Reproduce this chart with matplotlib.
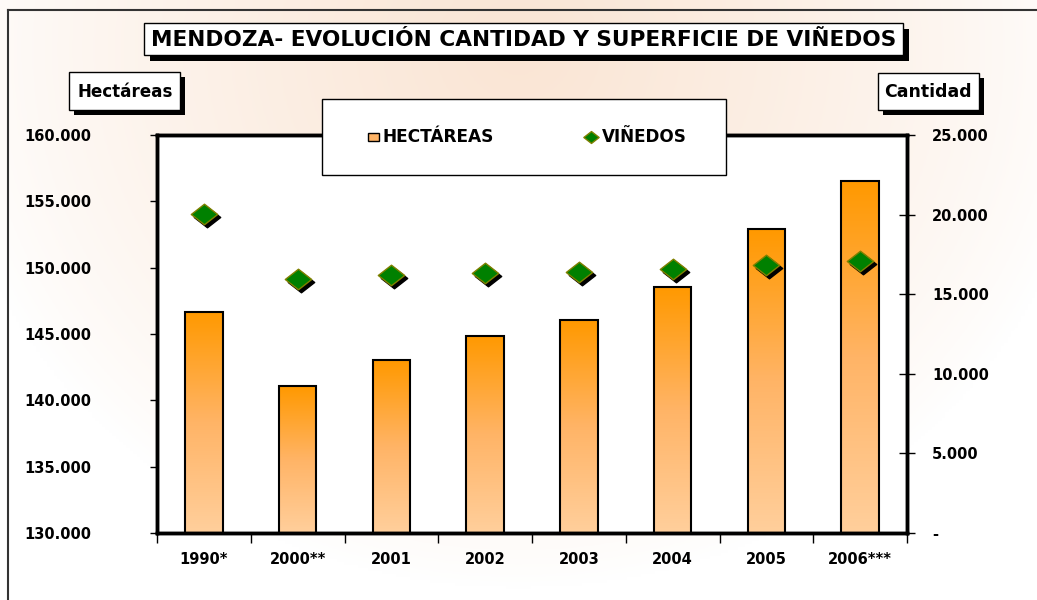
import numpy as np
import matplotlib
matplotlib.use("Agg")
import matplotlib.pyplot as plt
from matplotlib.patches import Rectangle
from matplotlib.path import Path
from matplotlib.lines import Line2D
from matplotlib.colors import LinearSegmentedColormap
from matplotlib.transforms import offset_copy
from matplotlib.ticker import FuncFormatter, FixedLocator

# ---------------- data ----------------
categories = ['1990*', '2000**', '2001', '2002', '2003', '2004', '2005', '2006***']
hectareas = [146680, 141080, 143040, 144850, 146050, 148560, 152890, 156510]
vinedos = [20050, 15980, 16190, 16310, 16410, 16580, 16830, 17100]
left_ticks = [130000, 135000, 140000, 145000, 150000, 155000, 160000]
right_ticks = [0, 5000, 10000, 15000, 20000, 25000]

title_text = 'MENDOZA- EVOLUCIÓN CANTIDAD Y SUPERFICIE DE VIÑEDOS'
left_label = 'Hectáreas'
right_label = 'Cantidad'
legend_labels = ['HECTÁREAS', 'VIÑEDOS']

W, H = 1037, 600
DPI = 100
plt.rcParams['font.family'] = ['DejaVu Sans']
plt.rcParams['font.weight'] = 'bold'

fig = plt.figure(figsize=(W / DPI, H / DPI), dpi=DPI)
fig.patch.set_facecolor('white')


def fx(x):
    return x / W


def fy(y):
    return 1 - y / H


# ---------------- background gradient ----------------
bg = fig.add_axes([0, 0, 1, 1], zorder=-10)
bg.set_axis_off()
xx, yy = np.meshgrid(np.linspace(0, 1, 300), np.linspace(0, 1, 200))
r = np.sqrt(((xx - 0.5) / 0.56) ** 2 + ((yy - 0.08) / 0.9) ** 2)
wgt = np.clip(1 - r, 0, 1) ** 0.8
peach = np.array([250, 229, 212]) / 255.0
img = (1 - wgt[..., None]) * 1.0 + wgt[..., None] * peach[None, None, :]
bg.imshow(img, extent=[0, 1, 0, 1], aspect='auto', origin='upper')
bg.set_xlim(0, 1)
bg.set_ylim(0, 1)

# figure border lines
fig.add_artist(Line2D([fx(8), fx(8)], [fy(10), 0], color='#333333', lw=1.5))
fig.add_artist(Line2D([fx(8), 1], [fy(10), fy(10)], color='#333333', lw=1.5))

# ---------------- main axes ----------------
L, R, T, B = 157, 907, 135, 533
ax = fig.add_axes([fx(L), fy(B), fx(R) - fx(L), fy(T) - fy(B)])
ax.set_facecolor('white')
x = np.arange(len(categories))
bars = ax.bar(x, hectareas, width=0.4, facecolor='none', edgecolor='black',
              linewidth=1.5, zorder=3)
ax.set_xlim(-0.5, len(categories) - 0.5)
ax.set_ylim(left_ticks[0], left_ticks[-1])

cmap = LinearSegmentedColormap.from_list('orng', ['#FFCF9C', '#FFB466', '#FF9900'])
grad = np.linspace(0, 1, 256).reshape(-1, 1)
ylo = left_ticks[0]
for rect in bars:
    x0, w = rect.get_x(), rect.get_width()
    top = rect.get_y() + rect.get_height()
    im = ax.imshow(grad, extent=[x0, x0 + w, ylo, top], aspect='auto',
                   origin='lower', cmap=cmap, zorder=2)
    im.set_clip_path(rect)
ax.set_xlim(-0.5, len(categories) - 0.5)
ax.set_ylim(left_ticks[0], left_ticks[-1])

fmt = lambda v, p: f"{int(round(v)):,}".replace(',', '.')
ax.yaxis.set_major_locator(FixedLocator(left_ticks))
ax.yaxis.set_major_formatter(FuncFormatter(fmt))
ax.tick_params(axis='y', direction='out', length=5, width=1, pad=42,
               labelsize=10.5, colors='black')
ax.set_xticks(x)
ax.set_xticklabels(categories, fontsize=10.5, fontweight='bold')
ax.set_xticks(np.arange(len(categories) + 1) - 0.5, minor=True)
ax.tick_params(axis='x', which='major', length=0, pad=14)
ax.tick_params(axis='x', which='minor', direction='out', length=7, width=1)
for s in ax.spines.values():
    s.set_linewidth(2.5)
    s.set_color('black')

# ---------------- right axis ----------------
ax2 = ax.twinx()
ax2.set_ylim(right_ticks[0], right_ticks[-1])
diamond = Path([(-1, 0), (0, 0.78), (1, 0), (0, -0.78), (-1, 0)],
               [Path.MOVETO, Path.LINETO, Path.LINETO, Path.LINETO, Path.CLOSEPOLY])
shadow_tr = offset_copy(ax2.transData, fig=fig, x=3, y=-3, units='dots')
ax2.plot(x, vinedos, linestyle='none', marker=diamond, markersize=19,
         color='black', markeredgecolor='black', transform=shadow_tr, zorder=4)
ax2.plot(x, vinedos, linestyle='none', marker=diamond, markersize=19,
         color='#008000', markeredgecolor='#808000', markeredgewidth=1, zorder=5)
ax2.yaxis.set_major_locator(FixedLocator(right_ticks))
ax2.yaxis.set_major_formatter(FuncFormatter(
    lambda v, p: '-' if v == 0 else f"{int(round(v)):,}".replace(',', '.')))
ax2.tick_params(axis='y', direction='inout', length=12, width=1, pad=12,
                labelsize=10.5, colors='black')
for s in ax2.spines.values():
    s.set_linewidth(2.5)
    s.set_color('black')


# ---------------- boxes with shadows ----------------
def shadow_box(x0, y0, x1, y1, off=5, shadow=True, z=20):
    if shadow:
        fig.add_artist(Rectangle((fx(x0 + off), fy(y1 + off)), fx(x1 - x0), fy(y0) - fy(y1),
                                 facecolor='black', edgecolor='none', zorder=z))
    fig.add_artist(Rectangle((fx(x0), fy(y1)), fx(x1 - x0), fy(y0) - fy(y1),
                             facecolor='white', edgecolor='black', lw=1, zorder=z + 1))


renderer = fig.canvas.get_renderer()


def fit_text(t, target_w):
    for _ in range(3):
        bb = t.get_window_extent(renderer=renderer)
        t.set_fontsize(t.get_fontsize() * target_w / bb.width)


shadow_box(144, 23, 903, 55, off=6)
t = fig.text(fx(523.5), fy(40), title_text, ha='center', va='center',
             fontsize=16, fontweight='bold', zorder=30)
fit_text(t, 744)

shadow_box(69, 72, 180, 110, off=5)
t = fig.text(fx(125), fy(92), left_label, ha='center', va='center',
             fontsize=10, fontweight='bold', zorder=30)
fit_text(t, 96)

shadow_box(878, 73, 979, 110, off=5)
t = fig.text(fx(928), fy(92), right_label, ha='center', va='center',
             fontsize=10, fontweight='bold', zorder=30)
fit_text(t, 88)

# ---------------- legend ----------------
shadow_box(322, 99, 726, 175, shadow=False)
fig.add_artist(Rectangle((fx(368), fy(141)), fx(11), fy(133) - fy(141),
                         facecolor='#FFB466', edgecolor='black', lw=1, zorder=31))
t = fig.text(fx(383), fy(137), legend_labels[0], ha='left', va='center',
             fontsize=11, fontweight='bold', zorder=31)
fit_text(t, 112)
fig.add_artist(Line2D([fx(591)], [fy(137)], marker=diamond, markersize=11,
                      color='#008000', markeredgecolor='#808000', markeredgewidth=1,
                      linestyle='none', zorder=31))
t = fig.text(fx(602), fy(137), legend_labels[1], ha='left', va='center',
             fontsize=11, fontweight='bold', zorder=31)
fit_text(t, 85)

fig.savefig('out.png', dpi=DPI, facecolor=fig.get_facecolor())
